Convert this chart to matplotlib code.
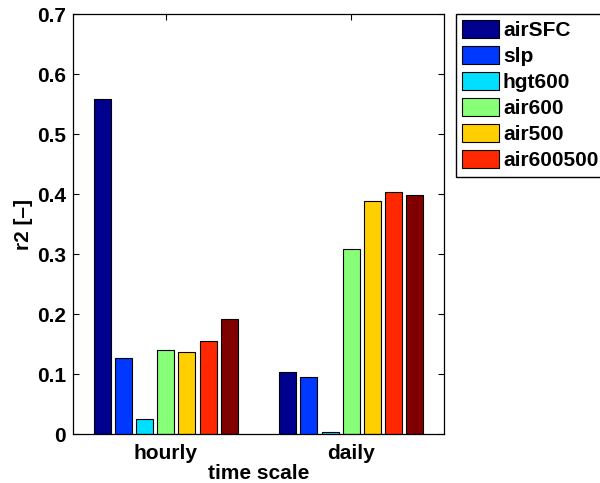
import matplotlib
matplotlib.use('Agg')
import matplotlib.pyplot as plt
import numpy as np

plt.rcParams['font.family'] = ['Liberation Sans', 'DejaVu Sans']
plt.rcParams['font.weight'] = 'bold'
plt.rcParams['font.size'] = 15

groups = ['hourly', 'daily']
series = ['airSFC', 'slp', 'hgt600', 'air600', 'air500', 'air600500', '']

# r2 per predictor, one row per time scale
r2_hourly = [0.558, 0.127, 0.025, 0.140, 0.136, 0.155, 0.192]
r2_daily = [0.104, 0.095, 0.003, 0.308, 0.389, 0.404, 0.398]


def matlab_jet(n):
    # jet(64) sampled the way bar() spreads series over the colormap
    idx = np.linspace(1, 64, n) / 64.0
    r = np.clip(1.5 - np.abs(4 * idx - 3), 0, 1)
    g = np.clip(1.5 - np.abs(4 * idx - 2), 0, 1)
    b = np.clip(1.5 - np.abs(4 * idx - 1), 0, 1)
    return np.column_stack([r, g, b])


colors = matlab_jet(len(series))
data = np.array([r2_hourly, r2_daily])

fig = plt.figure(figsize=(6.0, 4.83), dpi=100)
ax = fig.add_axes([0.1217, 0.1014, 0.6183, 0.8696])

x = np.arange(1, len(groups) + 1)
nser = len(series)
step = 0.8 / nser
width = 0.8 * step
handles = []
for k in range(nser):
    offs = (k - (nser - 1) / 2.0) * step
    h = ax.bar(x + offs, data[:, k], width=width, color=colors[k],
               edgecolor='k', linewidth=0.8, zorder=2)
    handles.append(h)

ax.set_xlim(0.5, 2.5)
ax.set_ylim(0, 0.7)
ax.set_xticks(x)
ax.set_xticklabels(groups)
ax.set_yticks(np.arange(0, 0.71, 0.1))
ax.set_yticklabels(['0', '0.1', '0.2', '0.3', '0.4', '0.5', '0.6', '0.7'])
ax.tick_params(direction='in', length=4, width=0.8, top=True, right=True,
               labelsize=15, pad=5)
ax.tick_params(axis='x', pad=7)
for s in ax.spines.values():
    s.set_linewidth(0.9)
ax.set_xlabel('time scale', fontweight='bold', labelpad=1)
ax.set_ylabel('r2 [\u2013]', fontweight='bold', labelpad=3)

fig.legend(handles[:6], series[:6], loc='upper left',
           bbox_to_anchor=(456 / 600, 1 - 14 / 483), borderaxespad=0,
           fancybox=False, edgecolor='k', framealpha=1,
           handlelength=1.75, handleheight=0.95, labelspacing=0.28,
           handletextpad=0.2, borderpad=0.3, fontsize=15)

fig.savefig('out.png', dpi=100)
